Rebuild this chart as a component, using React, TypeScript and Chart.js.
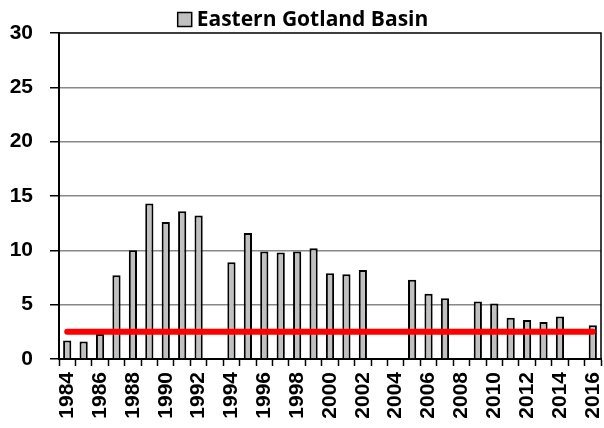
import React, { useEffect, useRef } from "react";
import { Chart, registerables } from "chart.js";

Chart.register(...registerables);

const years: string[] = [
  "1984","1985","1986","1987","1988","1989","1990","1991","1992","1993",
  "1994","1995","1996","1997","1998","1999","2000","2001","2002","2003",
  "2004","2005","2006","2007","2008","2009","2010","2011","2012","2013",
  "2014","2015","2016",
];

const basinValues: (number | null)[] = [
  1.7, 1.6, 2.3, 7.7, 10.0, 14.3, 12.6, 13.6, 13.2, null,
  8.9, 11.6, 9.9, 9.8, 9.9, 10.2, 7.9, 7.8, 8.2, null,
  null, 7.3, 6.0, 5.6, null, 5.3, 5.1, 3.8, 3.6, 3.4,
  3.9, null, 3.1,
];

const targetValue = 2.5;
const targetLine: number[] = years.map(() => targetValue);

const seriesLabel = "Eastern Gotland Basin";
const tickFont = "Liberation Sans, Arial, sans-serif";

const borderPlugin = {
  id: "plotBorder",
  afterDraw(chart: any) {
    const { ctx, chartArea } = chart;
    ctx.save();
    ctx.strokeStyle = "#000";
    ctx.lineWidth = 1.5;
    ctx.beginPath();
    ctx.moveTo(chartArea.left, chartArea.top);
    ctx.lineTo(chartArea.right, chartArea.top);
    ctx.lineTo(chartArea.right, chartArea.bottom);
    ctx.stroke();

    // legend (series name with swatch)
    ctx.font = "bold 21px 'Open Sans', Lato, sans-serif";
    ctx.textBaseline = "middle";
    ctx.textAlign = "left";
    const textW = ctx.measureText(seriesLabel).width;
    const box = 14;
    const gap = 5;
    const total = box + gap + textW;
    const cx = 303;
    const x0 = cx - total / 2;
    const cy = 19.5;
    ctx.fillStyle = "#c0c0c0";
    ctx.fillRect(x0, cy - box / 2, box, box);
    ctx.strokeStyle = "#000";
    ctx.lineWidth = 1.5;
    ctx.strokeRect(x0, cy - box / 2, box, box);
    ctx.fillStyle = "#000";
    ctx.fillText(seriesLabel, x0 + box + gap, cy + 1);
    ctx.restore();
  },
};

export default function App() {
  const ref = useRef<HTMLCanvasElement | null>(null);

  useEffect(() => {
    if (!ref.current) return;
    const chart = new Chart(ref.current, {
      type: "bar",
      data: {
        labels: years,
        datasets: [
          {
            type: "line",
            label: "target",
            data: targetLine,
            borderColor: "#ff0000",
            borderWidth: 6,
            pointRadius: 0,
            borderCapStyle: "round",
            fill: false,
            order: 0,
          } as any,
          {
            type: "bar",
            label: seriesLabel,
            data: basinValues,
            backgroundColor: "#c0c0c0",
            borderColor: "#000000",
            borderWidth: 2,
            barPercentage: 0.5,
            categoryPercentage: 1,
            order: 1,
          },
        ],
      },
      options: {
        animation: false,
        responsive: true,
        maintainAspectRatio: false,
        layout: { padding: { left: 0, right: 3, top: 33, bottom: 0 } },
        plugins: {
          legend: { display: false },
          tooltip: { enabled: false },
        },
        scales: {
          x: {
            offset: true,
            grid: {
              offset: true,
              drawOnChartArea: false,
              drawTicks: true,
              tickLength: 7,
              tickColor: "#000",
              tickWidth: 1.5,
            },
            border: { color: "#000", width: 2 },
            ticks: {
              autoSkip: false,
              minRotation: 90,
              maxRotation: 90,
              padding: 6,
              color: "#000",
              font: { family: tickFont, size: 21, weight: "bold" },
              callback: (_v: any, i: number) => (i % 2 === 0 ? years[i] : ""),
            },
            afterFit: (scale: any) => {
              scale.height = 69;
              scale.paddingLeft = 0;
              scale.paddingRight = 0;
            },
          },
          y: {
            min: 0,
            max: 30,
            grid: {
              color: (ctx: any) => {
                const v = ctx.tick ? ctx.tick.value : 0;
                return v > 0 && v < 30 && v % 5 === 0 ? "#888888" : "rgba(0,0,0,0)";
              },
              lineWidth: 1.5,
              tickColor: "#000",
              tickLength: 9,
              tickWidth: 1.5,
            },
            border: { color: "#000", width: 2 },
            ticks: {
              stepSize: 2.5,
              padding: 17,
              color: "#000",
              font: { family: tickFont, size: 21, weight: "bold" },
              callback: (v: any) => (Number(v) % 5 === 0 ? String(v) : ""),
            },
            afterFit: (scale: any) => {
              scale.width = 59;
            },
          },
        },
      },
      plugins: [borderPlugin],
    } as any);
    return () => chart.destroy();
  }, []);

  return (
    <div style={{ position: "absolute", left: 0, top: 0, width: 604, height: 428, background: "#fff" }}>
      <canvas ref={ref} />
    </div>
  );
}
